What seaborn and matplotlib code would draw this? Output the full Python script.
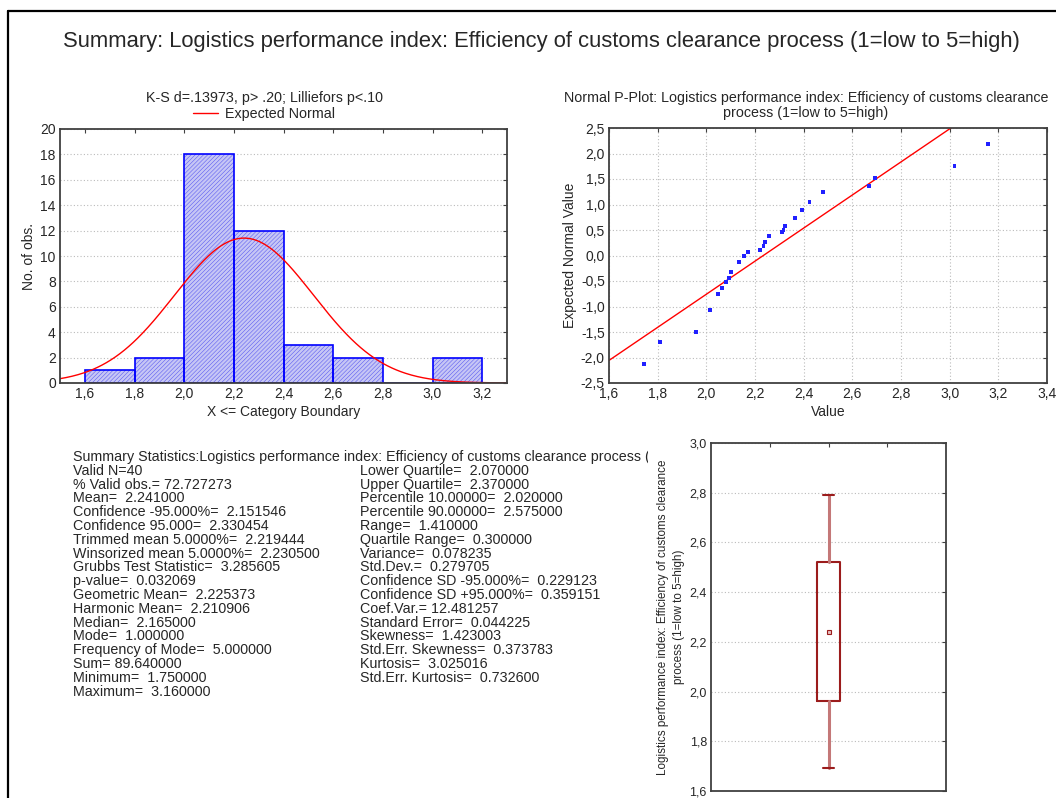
"""
plot.py
-------
Statistica-style summary panel: histogram with expected normal,
normal probability plot, descriptive statistics and a mean/SD box plot.
"""

import matplotlib
matplotlib.use("Agg")
import matplotlib.pyplot as plt
import numpy as np
import seaborn as sns
from matplotlib.lines import Line2D
from matplotlib.ticker import FuncFormatter, MultipleLocator

# ── Data ───────────────────────────────────────────────────────────────────────

VAR_NAME = "Logistics performance index: Efficiency of customs clearance process (1=low to 5=high)"

hist_edges = [1.6, 1.8, 2.0, 2.2, 2.4, 2.6, 2.8, 3.0, 3.2]
hist_counts = [1, 2, 18, 12, 3, 2, 0, 2]

n_valid = 40
mean_val = 2.241
sd_val = 0.279705

pp_values = [1.745, 1.81, 1.956, 2.015, 2.047, 2.063, 2.081, 2.094, 2.103,
             2.136, 2.154, 2.170, 2.220, 2.235, 2.243, 2.258, 2.310, 2.317,
             2.325, 2.366, 2.392, 2.424, 2.480, 2.668, 2.693, 3.020, 3.159]
pp_expected = [-2.12, -1.70, -1.50, -1.066, -0.753, -0.642, -0.518, -0.44, -0.323,
               -0.127, -0.01, 0.068, 0.108, 0.186, 0.264, 0.388, 0.46, 0.492,
               0.577, 0.733, 0.89, 1.046, 1.242, 1.359, 1.516, 1.75, 2.18]
pp_slope = 3.2434
pp_intercept = -7.2465

box_mean = 2.241
box_sd = 0.279705
box_whisker_mult = 1.96

stats_left = [
    "Valid N=40",
    "% Valid obs.= 72.727273",
    "Mean=  2.241000",
    "Confidence -95.000%=  2.151546",
    "Confidence 95.000=  2.330454",
    "Trimmed mean 5.0000%=  2.219444",
    "Winsorized mean 5.0000%=  2.230500",
    "Grubbs Test Statistic=  3.285605",
    "p-value=  0.032069",
    "Geometric Mean=  2.225373",
    "Harmonic Mean=  2.210906",
    "Median=  2.165000",
    "Mode=  1.000000",
    "Frequency of Mode=  5.000000",
    "Sum= 89.640000",
    "Minimum=  1.750000",
    "Maximum=  3.160000",
]
stats_right = [
    "Lower Quartile=  2.070000",
    "Upper Quartile=  2.370000",
    "Percentile 10.00000=  2.020000",
    "Percentile 90.00000=  2.575000",
    "Range=  1.410000",
    "Quartile Range=  0.300000",
    "Variance=  0.078235",
    "Std.Dev.=  0.279705",
    "Confidence SD -95.000%=  0.229123",
    "Confidence SD +95.000%=  0.359151",
    "Coef.Var.= 12.481257",
    "Standard Error=  0.044225",
    "Skewness=  1.423003",
    "Std.Err. Skewness=  0.373783",
    "Kurtosis=  3.025016",
    "Std.Err. Kurtosis=  0.732600",
]

# ── Style ──────────────────────────────────────────────────────────────────────

sns.set_style("white")
plt.rcParams["font.family"] = ["Liberation Sans", "DejaVu Sans"]
plt.rcParams["hatch.linewidth"] = 0.35

W, H = 1056, 798
SPINE = "#404040"
GRID = dict(color="#BBBBBB", linestyle=(0, (1, 2)), linewidth=0.8)
TICK_FS = 10
LABEL_FS = 10
SMALL_FS = 10.3


def px(x0, y0, x1, y1):
    """Pixel box (left, top, right, bottom) -> figure fraction rect."""
    return [x0 / W, 1 - y1 / H, (x1 - x0) / W, (y1 - y0) / H]


def comma(fmt):
    return FuncFormatter(lambda v, _: format(v, fmt).replace(".", ","))


def style_axes(ax):
    for s in ax.spines.values():
        s.set_color(SPINE)
        s.set_linewidth(1.3)
    ax.tick_params(direction="in", top=True, right=True, length=3,
                   width=0.8, color=SPINE, labelsize=TICK_FS, pad=3)


fig = plt.figure(figsize=(W / 100, H / 100), dpi=100)

# outer frame (left and top only, as in the source)
fig.add_artist(Line2D([8 / W, 8 / W], [0, 1 - 11 / H], color="black", lw=1.6))
fig.add_artist(Line2D([8 / W, 1], [1 - 11 / H, 1 - 11 / H], color="black", lw=1.6))

fig.text(541 / W, 1 - 42 / H, "Summary: " + VAR_NAME, ha="center", va="center",
         fontsize=15.8)

# ── Histogram ──────────────────────────────────────────────────────────────────

ax_h = fig.add_axes(px(60, 129, 507, 383))
centers = [(a + b) / 2 for a, b in zip(hist_edges[:-1], hist_edges[1:])]
# hatched fill first (lighter hatch lines), then the solid blue outline on top
sns.histplot(x=centers, weights=hist_counts, bins=hist_edges, ax=ax_h,
             color="#C6C6F5", edgecolor="#4F4FF0", linewidth=0, alpha=1,
             hatch="////////")
sns.histplot(x=centers, weights=hist_counts, bins=hist_edges, ax=ax_h,
             fill=False, color="#0000FF", linewidth=1.2)
grid_x = np.linspace(1.5, 3.3, 300)
bin_w = hist_edges[1] - hist_edges[0]
expected = n_valid * bin_w * np.exp(-0.5 * ((grid_x - mean_val) / sd_val) ** 2) / (sd_val * np.sqrt(2 * np.pi))
sns.lineplot(x=grid_x, y=expected, ax=ax_h, color="#FF0000", linewidth=1.0,
             label="Expected Normal")
ax_h.set_xlim(1.5, 3.3)
ax_h.set_ylim(0, 20)
ax_h.xaxis.set_major_locator(MultipleLocator(0.2))
ax_h.xaxis.set_major_formatter(comma(".1f"))
ax_h.yaxis.set_major_locator(MultipleLocator(2))
ax_h.yaxis.grid(True, **GRID)
ax_h.set_axisbelow(True)
style_axes(ax_h)
ax_h.set_xlabel("X <= Category Boundary", fontsize=LABEL_FS, labelpad=3)
ax_h.set_ylabel("No. of obs.", fontsize=LABEL_FS, labelpad=3)
ax_h.get_legend().remove()
fig.legend(handles=[Line2D([], [], color="#FF0000", lw=1.0)], labels=["Expected Normal"],
           loc="center", bbox_to_anchor=(264 / W, 1 - 114 / H), frameon=False,
           fontsize=SMALL_FS, handlelength=1.8, handletextpad=0.5, borderpad=0)
fig.text(264 / W, 1 - 98 / H, "K-S d=.13973, p> .20; Lilliefors p<.10",
         ha="center", va="center", fontsize=SMALL_FS)

# ── Normal probability plot ───────────────────────────────────────────────────

ax_p = fig.add_axes(px(609, 128, 1047, 383))
sns.scatterplot(x=pp_values, y=pp_expected, ax=ax_p, marker="s", s=8,
                color="#2020FF", edgecolor="none", zorder=3)
line_x = np.array([1.6, 3.4])
sns.lineplot(x=line_x, y=pp_intercept + pp_slope * line_x, ax=ax_p,
             color="#FF0000", linewidth=1.0)
ax_p.set_xlim(1.6, 3.4)
ax_p.set_ylim(-2.5, 2.5)
ax_p.xaxis.set_major_locator(MultipleLocator(0.2))
ax_p.yaxis.set_major_locator(MultipleLocator(0.5))
ax_p.xaxis.set_major_formatter(comma(".1f"))
ax_p.yaxis.set_major_formatter(comma(".1f"))
ax_p.grid(True, **GRID)
ax_p.set_axisbelow(True)
style_axes(ax_p)
ax_p.set_xlabel("Value", fontsize=LABEL_FS, labelpad=3)
ax_p.set_ylabel("Expected Normal Value", fontsize=LABEL_FS, labelpad=3)
fig.text(806 / W, 1 - 98 / H, "Normal P-Plot: Logistics performance index: Efficiency of customs clearance",
         ha="center", va="center", fontsize=SMALL_FS)
fig.text(806 / W, 1 - 113 / H, "process (1=low to 5=high)",
         ha="center", va="center", fontsize=SMALL_FS)

# ── Summary statistics text ───────────────────────────────────────────────────

ax_t = fig.add_axes(px(0, 440, 648, 720))
ax_t.set_xlim(0, 648)
ax_t.set_ylim(720, 440)
ax_t.axis("off")
row_h = 13.8
y0 = 457
ax_t.text(73, y0, "Summary Statistics:" + VAR_NAME, va="center", ha="left",
          fontsize=SMALL_FS, clip_on=True)
for i, line in enumerate(stats_left, start=1):
    ax_t.text(73, y0 + i * row_h, line, va="center", ha="left", fontsize=SMALL_FS)
for i, line in enumerate(stats_right, start=1):
    ax_t.text(360, y0 + i * row_h, line, va="center", ha="left", fontsize=SMALL_FS)

# ── Box plot (mean, mean±SD, mean±1.96*SD) ────────────────────────────────────

ax_b = fig.add_axes(px(711, 443, 946, 791))
box_stats = [{
    "med": box_mean, "mean": box_mean,
    "q1": box_mean - box_sd, "q3": box_mean + box_sd,
    "whislo": box_mean - box_whisker_mult * box_sd,
    "whishi": box_mean + box_whisker_mult * box_sd,
    "fliers": [],
}]
ax_b.bxp(box_stats, positions=[0], widths=0.2, capwidths=0.1,
         showmeans=True, showfliers=False,
         boxprops=dict(color="#9B1C1C", linewidth=1.5),
         whiskerprops=dict(color="#C47878", linewidth=2.2),
         capprops=dict(color="#9B1C1C", linewidth=1.5),
         medianprops=dict(linewidth=0),
         meanprops=dict(marker="s", markersize=2.2, markerfacecolor="#E8C0C0",
                        markeredgecolor="#9B1C1C", markeredgewidth=0.8))
ax_b.set_xlim(-1, 1)
ax_b.set_ylim(1.6, 3.0)
ax_b.set_xticks([-0.5, 0, 0.5])
ax_b.set_xticklabels([])
ax_b.yaxis.set_major_locator(MultipleLocator(0.2))
ax_b.yaxis.set_major_formatter(comma(".1f"))
ax_b.yaxis.grid(True, **GRID)
ax_b.set_axisbelow(True)
style_axes(ax_b)
ax_b.tick_params(labelsize=9)
ax_b.set_ylabel("Logistics performance index: Efficiency of customs clearance\nprocess (1=low to 5=high)",
                fontsize=8.4, labelpad=3, linespacing=1.45)

fig.savefig("out.png", dpi=100)
